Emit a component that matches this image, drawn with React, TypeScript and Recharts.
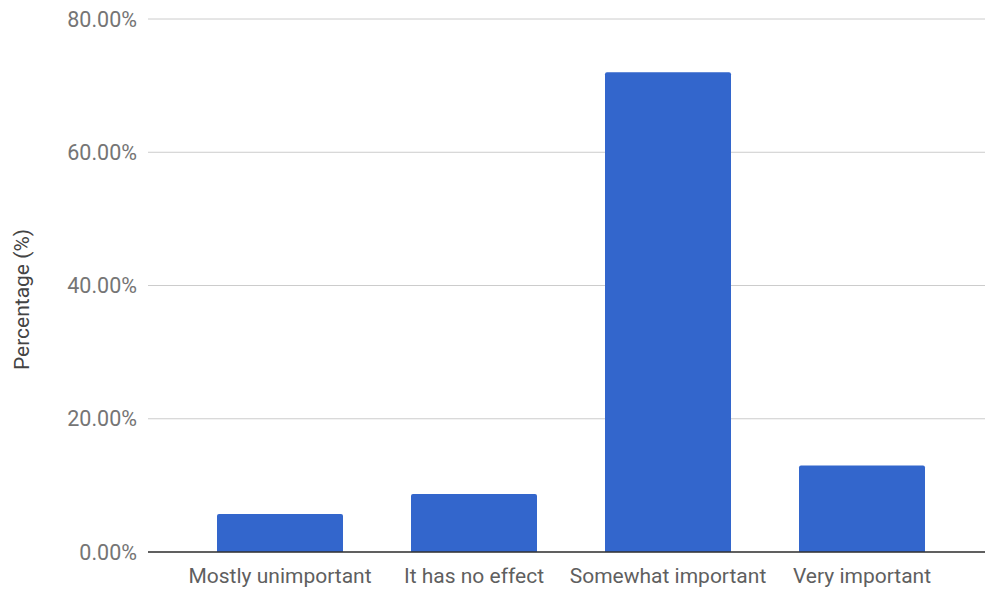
import React from 'react';
import { BarChart, Bar, XAxis, YAxis, CartesianGrid } from 'recharts';

const categories = ['Mostly unimportant', 'It has no effect', 'Somewhat important', 'Very important'];
const percentages = [5.7, 8.7, 72.0, 13.0];
const yTicks = [0, 20, 40, 60, 80];

const data = categories.map((name, i) => ({ name, value: percentages[i] }));

const FONT = 'Roboto, "Noto Sans", sans-serif';

export default function App() {
  return (
    <div style={{ position: 'absolute', left: 0, top: 0, background: '#fff', fontFamily: FONT }}>
      <BarChart width={985} height={590} data={data} margin={{ top: 19, right: 0, left: 0, bottom: 0 }}>
        <CartesianGrid vertical={false} stroke="#cccccc" />
        <XAxis
          dataKey="name"
          height={38}
          padding={{ left: 35, right: 26 }}
          axisLine={{ stroke: '#333333', strokeWidth: 1.5 }}
          tickLine={false}
          tickSize={0}
          tickMargin={16}
          interval={0}
          tick={{ fill: '#5f5f5f', fontSize: 21, fontFamily: FONT }}
        />
        <YAxis
          width={148}
          domain={[0, 80]}
          ticks={yTicks}
          axisLine={false}
          tickLine={false}
          tickSize={0}
          tickMargin={11}
          tickFormatter={(v: number) => v.toFixed(2) + '%'}
          tick={{ fill: '#757575', fontSize: 21.5, fontFamily: FONT }}
          label={{
            value: 'Percentage (%)',
            angle: -90,
            position: 'insideLeft',
            offset: 22,
            dy: 14,
            style: { textAnchor: 'middle', fill: '#444444', fontSize: 21, fontFamily: FONT },
          }}
        />
        <Bar dataKey="value" fill="#3366cc" barSize={126} radius={[2, 2, 0, 0]} isAnimationActive={false} />
      </BarChart>
    </div>
  );
}
